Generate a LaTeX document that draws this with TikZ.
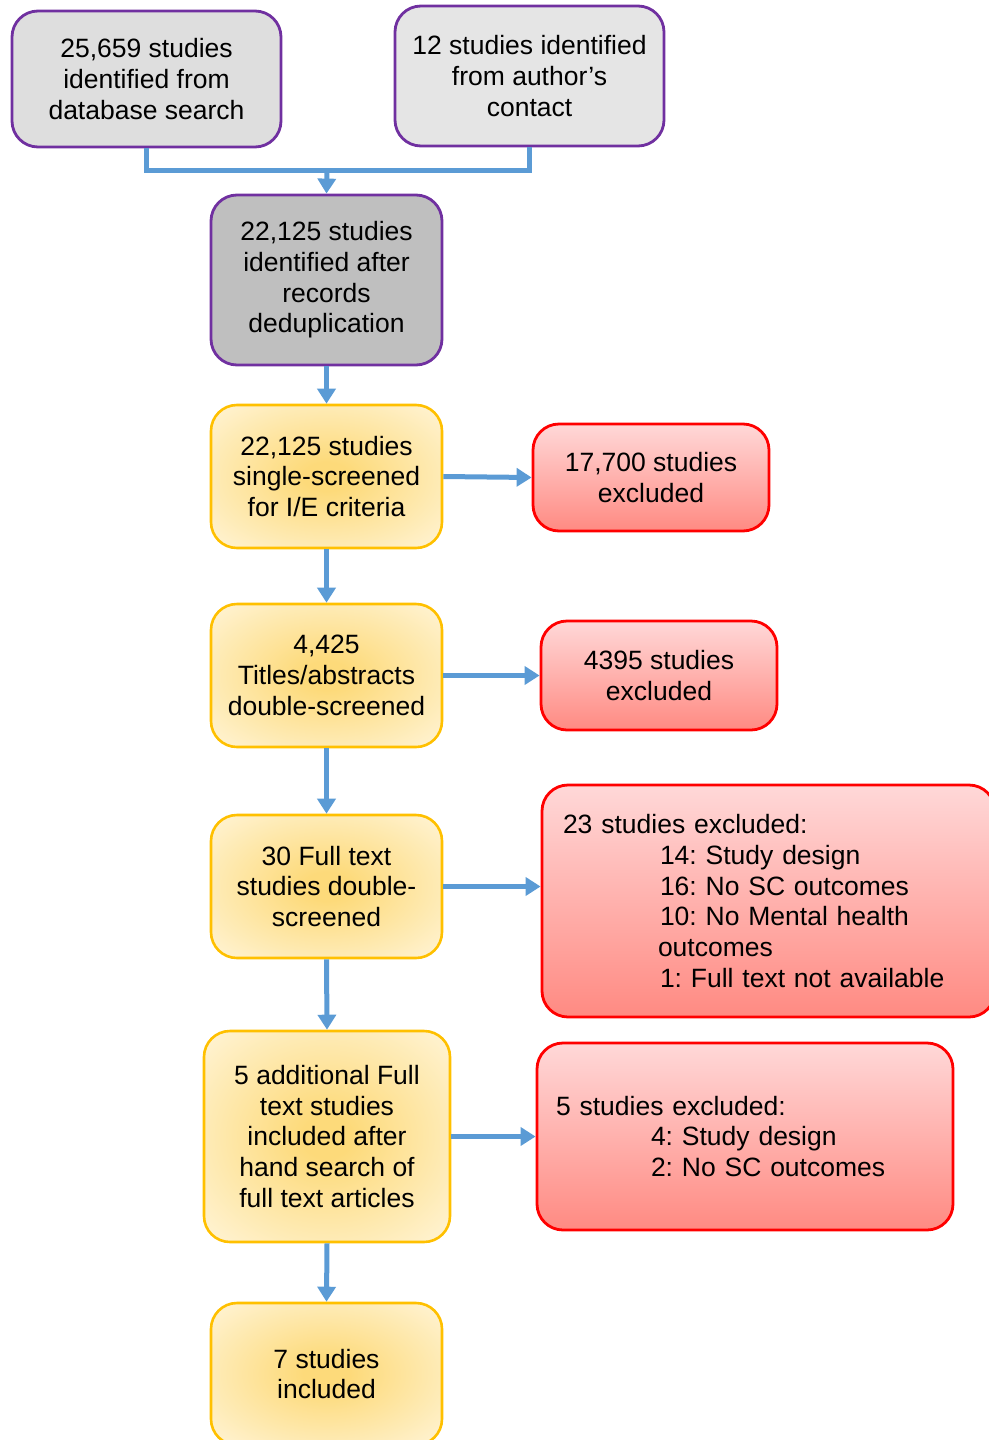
\documentclass[tikz,border=0pt]{standalone}
\usepackage{fontspec}
\setmainfont{Liberation Sans}
\usetikzlibrary{arrows.meta,positioning}
\frenchspacing
\definecolor{purp}{HTML}{7030A0}
\definecolor{gold}{HTML}{FFC000}
\definecolor{redb}{HTML}{FF0000}
\definecolor{arr}{HTML}{5B9BD5}
\definecolor{ycen}{HTML}{FDDA7A}
\definecolor{yedge}{HTML}{FFF3D2}
\definecolor{rtop}{HTML}{FFD8D8}
\definecolor{rbot}{HTML}{FF8A82}
\pgfdeclareradialshading{yglow}{\pgfpoint{0bp}{0bp}}{color(0bp)=(ycen); color(5bp)=(ycen); color(34bp)=(yedge); color(50bp)=(yedge)}
\tikzset{
  base/.style={rounded corners=26pt, align=center, inner sep=0pt,
    font=\fontsize{26.5}{30.7}\selectfont\frenchspacing, text=black},
  graybox/.style={base, draw=purp, line width=2.8pt},
  yelbox/.style={base, draw=gold, line width=2.6pt, shading=yglow},
  redbox/.style={base, draw=redb, line width=2.8pt, top color=rtop, bottom color=rbot},
  flow/.style={draw=arr, line width=5pt, -{Triangle[length=15pt,width=18pt]}},
  link/.style={draw=arr, line width=5pt},
}
\begin{document}
\begin{tikzpicture}[x=1pt,y=-1pt]
\useasboundingbox (0,0) rectangle (988,1440);
\node[graybox, fill=black!13, minimum width=269pt, minimum height=136pt] (A) at (146.5,79)
  {25,659 studies\\identified from\\database search};
\node[graybox, fill=black!10, minimum width=269pt, minimum height=140pt] (B) at (529.5,76)
  {12 studies identified\\from author’s\\contact};
\node[graybox, fill=black!25, minimum width=231pt, minimum height=170pt] (C) at (326.5,280)
  {22,125 studies\\identified after\\records\\deduplication};
\node[yelbox, minimum width=231pt, minimum height=143pt] (D) at (326.5,476.5)
  {22,125 studies\\single-screened\\for I/E criteria};
\node[redbox, minimum width=236pt, minimum height=107pt] (E) at (651,477.5)
  {17,700 studies\\excluded};
\node[yelbox, minimum width=231pt, minimum height=143pt] (F) at (326.5,675.5)
  {4,425\\Titles/abstracts\\double-screened};
\node[redbox, minimum width=236pt, minimum height=109pt] (G) at (659,675.5)
  {4395 studies\\excluded};
\node[yelbox, minimum width=231pt, minimum height=143pt] (H) at (326.5,886.5)
  {30 Full text\\studies double-\\screened};
\node[redbox, align=left, inner xsep=21pt, text width=411pt, minimum height=232pt] (I) at (768.5,901)
  {23 studies excluded:\\
   \hspace*{97pt}14: Study design\\
   \hspace*{97pt}16: No SC outcomes\\
   \hspace*{97pt}10: No Mental health\\
   \hspace*{95pt}outcomes\\
   \hspace*{97pt}1: Full text not available};
\node[yelbox, minimum width=246pt, minimum height=211pt] (J) at (327,1136.5)
  {5 additional Full\\text studies\\included after\\hand search of\\full text articles};
\node[redbox, align=left, inner xsep=19pt, text width=378pt, minimum height=187pt] (K) at (745,1136.5)
  {5 studies excluded:\\
   \hspace*{95pt}4: Study design\\
   \hspace*{95pt}2: No SC outcomes};
\node[yelbox, minimum width=231pt, minimum height=142pt] (L) at (326.5,1374)
  {7 studies\\included};
\coordinate (m) at (327,170);
\draw[link] (A.south) |- (m) -| (B.south);
\draw[flow] (m) -- (C.north);
\draw[flow] (C.south) -- (D.north);
\draw[flow] (D.east) -- (E.west);
\draw[flow] (D.south) -- (F.north);
\draw[flow] (F.east) -- (G.west);
\draw[flow] (F.south) -- (H.north);
\draw[flow] (H.east) -- (H.east -| I.west);
\draw[flow] (H.south) -- (J.north);
\draw[flow] (J.east) -- (J.east -| K.west);
\draw[flow] (J.south) -- (L.north);
\end{tikzpicture}
\end{document}
